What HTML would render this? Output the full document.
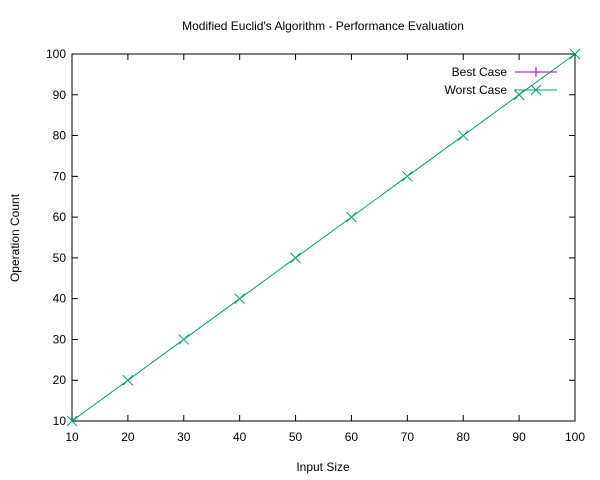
<!DOCTYPE html>
<html><head><meta charset="utf-8"><style>
body{margin:0;background:#fff}
svg{display:block;font-family:"Liberation Sans",Arial,sans-serif;font-size:12px}
</style></head><body>
<svg id="chart" width="600" height="480">
<defs><clipPath id="plotclip"><rect x="72" y="54" width="503" height="367"/></clipPath></defs>
<text x="323" y="30" text-anchor="middle">Modified Euclid's Algorithm - Performance Evaluation</text>
<text x="323" y="471" text-anchor="middle">Input Size</text>
<text transform="translate(19,238) rotate(-90)" text-anchor="middle">Operation Count</text>
<g id="axes"></g>
<rect x="72" y="54" width="503" height="367" fill="none" stroke="#000" stroke-width="1"/>
<g id="series-clipped" clip-path="url(#plotclip)"></g>
<g id="series"></g>
<g id="legend"></g>
</svg>
<script>
const xTicks=[10,20,30,40,50,60,70,80,90,100];
const yTicks=[10,20,30,40,50,60,70,80,90,100];
const inputSizes=[10,20,30,40,50,60,70,80,90,100];
const bestCase=[1,1,1,1,1,1,1,1,1,1];
const worstCase=[10,20,30,40,50,60,70,80,90,100];
const X0=72,X1=575,Y0=421,Y1=54;
const sx=v=>X0+(v-10)/90*(X1-X0);
const sy=v=>Y0-(v-10)/90*(Y0-Y1);
const NS="http://www.w3.org/2000/svg";
const axes=document.getElementById('axes'),leg=document.getElementById('legend');
function mk(t,a,p){const e=document.createElementNS(NS,t);for(const k in a)e.setAttribute(k,a[k]);p.appendChild(e);return e;}
xTicks.forEach(v=>{const x=sx(v);
 mk('path',{d:`M${x},${Y0}v-6M${x},${Y1}v6`,stroke:'#000'},axes);
 const t=mk('text',{x:x,y:Y0+20,'text-anchor':'middle'},axes);t.textContent=v;
 
 });
yTicks.forEach(v=>{const y=sy(v);
 mk('path',{d:`M${X0},${y}h6M${X1},${y}h-6`,stroke:'#000'},axes);
 const t=mk('text',{x:X0-6,y:y+4,'text-anchor':'end'},axes);t.textContent=v;
 
 });
function series(vals,color,marker,name,ly,parent){
 const g=mk('g',{},parent);
 
 
 mk('polyline',{points:vals.map((v,i)=>sx(inputSizes[i])+','+sy(v)).join(' '),fill:'none',stroke:color,'stroke-width':1},g);
 const mkr=(x,y)=>marker==='plus'?`M${x-5},${y}h10M${x},${y-5}v10`:`M${x-5},${y-5}l10,10M${x-5},${y+5}l10,-10`;
 vals.forEach((v,i)=>{const p=mk('path',{d:mkr(sx(inputSizes[i]),sy(v)),stroke:color,'stroke-width':1},g);
  
  });
 const lg=mk('g',{},leg);
 
 
 const t=mk('text',{x:507,y:ly+4,'text-anchor':'end'},lg);t.textContent=name==='best'?'Best Case':'Worst Case';
 mk('path',{d:`M515,${ly}h42`,stroke:color},lg);
 mk('path',{d:mkr(536,ly),stroke:color},lg);
}
series(bestCase,'#9400d3','plus','best',72,document.getElementById('series-clipped'));
series(worstCase,'#009e73','cross','worst',90,document.getElementById('series'));
</script>
</body></html>
